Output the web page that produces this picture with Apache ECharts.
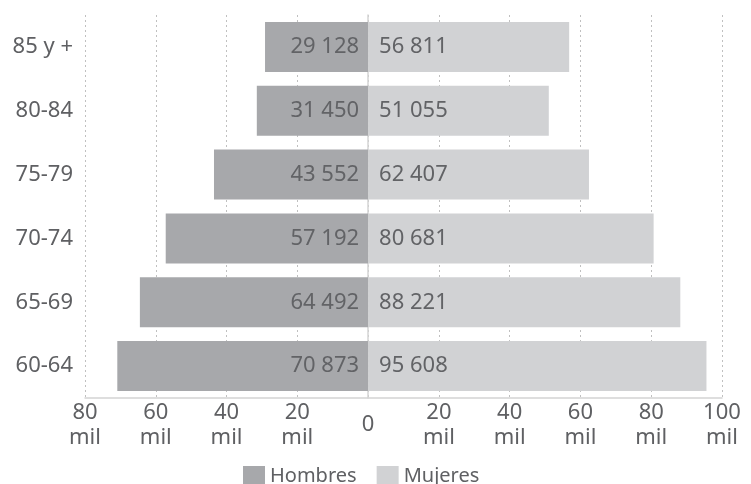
<!DOCTYPE html>
<html>
<head>
<meta charset="utf-8">
<script src="https://cdn.jsdelivr.net/npm/echarts@6/dist/echarts.min.js"></script>
<style>
  html, body { margin: 0; padding: 0; background: #ffffff; }
  #chart { width: 751px; height: 484px; }
</style>
</head>
<body>
<div id="chart"></div>
<script>
// Age groups, from the youngest (bottom) to the oldest (top)
const ageGroups = ['60-64', '65-69', '70-74', '75-79', '80-84', '85 y +'];
// Population by sex for each age group
const hombres = [70873, 64492, 57192, 43552, 31450, 29128];
const mujeres = [95608, 88221, 80681, 62407, 51055, 56811];
const seriesNames = ['Hombres', 'Mujeres'];

const FONT = '"Noto Sans", sans-serif';
const TEXT = '#5f6063';

// "70873" -> "70 873"
function fmt(n) {
  return String(Math.round(Math.abs(n))).replace(/\B(?=(\d{3})+(?!\d))/g, ' ');
}

const chart = echarts.init(document.getElementById('chart'), null, { renderer: 'canvas' });

chart.setOption({
  animation: false,
  textStyle: { fontFamily: FONT },
  grid: { left: 85, right: 29, top: 15, bottom: 86, containLabel: false },
  legend: {
    data: seriesNames,
    left: 238,
    top: 461,
    icon: 'rect',
    itemWidth: 22,
    itemHeight: 21,
    itemGap: 20,
    textStyle: { fontFamily: FONT, fontSize: 20, color: TEXT }
  },
  xAxis: {
    type: 'value',
    min: -80000,
    max: 100000,
    interval: 20000,
    axisLine: { show: true, lineStyle: { color: '#d4d4d4', width: 1.5 } },
    axisTick: { show: false },
    splitLine: { show: true, lineStyle: { color: '#c0c0c0', type: [2, 3], width: 1 } },
    axisLabel: {
      fontFamily: FONT,
      fontSize: 22,
      color: TEXT,
      verticalAlign: 'middle',
      margin: 27,
      lineHeight: 25,
      formatter: function (v) {
        return v === 0 ? '0' : Math.abs(v / 1000) + '\nmil';
      }
    }
  },
  yAxis: {
    type: 'category',
    data: ageGroups,
    axisLine: { show: true, lineStyle: { color: '#d4d4d4', width: 1.5 } },
    axisTick: { show: false },
    axisLabel: { fontFamily: FONT, fontSize: 22, color: TEXT, margin: 12 }
  },
  series: [
    {
      name: seriesNames[0],
      type: 'bar',
      barWidth: 50,
      barGap: '-100%',
      data: hombres.map(v => -v),
      itemStyle: { color: '#a7a8ab' },
      label: {
        show: true,
        position: 'insideRight',
        distance: 9,
        fontFamily: FONT,
        fontSize: 22,
        color: '#626366',
        formatter: p => fmt(p.value)
      }
    },
    {
      name: seriesNames[1],
      type: 'bar',
      barWidth: 50,
      barGap: '-100%',
      data: mujeres,
      itemStyle: { color: '#d1d2d4' },
      label: {
        show: true,
        position: 'insideLeft',
        distance: 11,
        fontFamily: FONT,
        fontSize: 22,
        color: '#626366',
        formatter: p => fmt(p.value)
      }
    }
  ]
});
</script>
</body>
</html>
